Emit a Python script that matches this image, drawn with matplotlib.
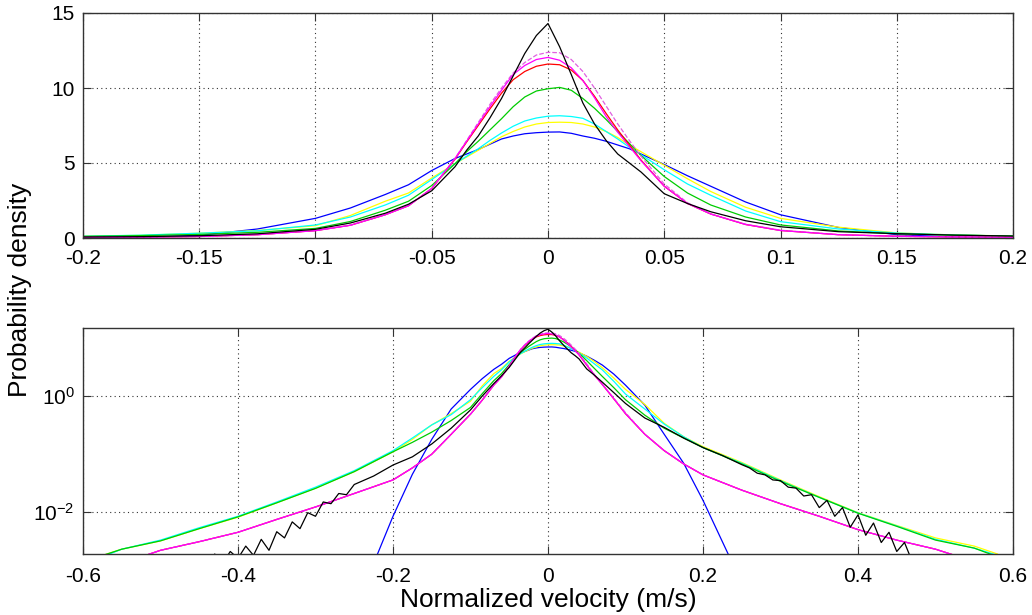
import matplotlib
matplotlib.use("Agg")
import matplotlib.pyplot as plt
from matplotlib.ticker import NullLocator

plt.rcParams['font.family'] = ['Liberation Sans', 'DejaVu Sans']
plt.rcParams['mathtext.fontset'] = 'custom'
plt.rcParams['mathtext.rm'] = 'Liberation Sans'
plt.rcParams['mathtext.it'] = 'Liberation Sans:italic'
plt.rcParams['mathtext.default'] = 'regular'
plt.rcParams['axes.unicode_minus'] = False

# ---------------- data ----------------
velocity = [-0.58, -0.55, -0.50, -0.45, -0.40, -0.35, -0.30, -0.25, -0.20, -0.175,
            -0.15, -0.125, -0.10, -0.085, -0.07, -0.06, -0.05, -0.04, -0.035, -0.03,
            -0.025, -0.02, -0.015, -0.01, -0.005, 0.0, 0.005, 0.01, 0.015, 0.02,
            0.025, 0.03, 0.035, 0.04, 0.05, 0.06, 0.07, 0.085, 0.10, 0.125,
            0.15, 0.175, 0.20, 0.25, 0.30, 0.35, 0.40, 0.45, 0.50, 0.55, 0.58]

pdf_blue = [1e-5, 1e-5, 1e-5, 1e-5, 1e-5, 1e-5, 2e-5, 2e-4, 0.0085, 0.045,
            0.18, 0.6, 1.31, 2.0, 2.9, 3.55, 4.5, 5.3, 5.6, 5.9,
            6.25, 6.6, 6.8, 6.95, 7.02, 7.06, 7.07, 6.98, 6.8, 6.65,
            6.45, 6.2, 5.95, 5.6, 4.9, 4.15, 3.45, 2.4, 1.55, 0.7,
            0.22, 0.07, 0.016, 6e-4, 2e-5, 1e-5, 1e-5, 1e-5, 1e-5, 1e-5, 1e-5]

pdf_yellow = [0.0017, 0.0023, 0.0032, 0.0052, 0.0082, 0.0145, 0.026, 0.05, 0.11, 0.18,
              0.32, 0.5, 0.82, 1.5, 2.45, 3.0, 4.0, 4.95, 5.4, 5.85,
              6.3, 6.75, 7.1, 7.4, 7.6, 7.7, 7.72, 7.7, 7.6, 7.4,
              7.1, 6.7, 6.2, 5.75, 4.85, 3.95, 3.1, 2.05, 1.31, 0.72,
              0.34, 0.2, 0.135, 0.072, 0.036, 0.0185, 0.0098, 0.0059, 0.0036, 0.0026, 0.0019]

pdf_cyan = [0.0016, 0.0023, 0.0033, 0.0054, 0.0085, 0.015, 0.027, 0.052, 0.115, 0.19,
            0.32, 0.48, 0.87, 1.4, 2.2, 2.85, 3.9, 4.95, 5.45, 5.95,
            6.5, 7.0, 7.45, 7.8, 8.0, 8.12, 8.15, 8.1, 7.98, 7.6,
            7.1, 6.6, 6.05, 5.55, 4.55, 3.6, 2.85, 1.8, 1.09, 0.6,
            0.33, 0.2, 0.13, 0.07, 0.035, 0.018, 0.0097, 0.0058, 0.0034, 0.0024, 0.0018]

pdf_green = [0.0017, 0.0023, 0.0032, 0.0052, 0.0083, 0.0145, 0.0257, 0.05, 0.11, 0.16,
             0.24, 0.38, 0.64, 1.1, 1.85, 2.45, 3.5, 4.95, 5.75, 6.45,
             7.2, 7.95, 8.75, 9.4, 9.8, 9.95, 10.04, 9.85, 9.3, 8.65,
             7.9, 7.1, 6.3, 5.5, 4.1, 3.0, 2.2, 1.4, 0.87, 0.47,
             0.28, 0.19, 0.13, 0.068, 0.034, 0.018, 0.0096, 0.0057, 0.0033, 0.0024, 0.0017]

pdf_red = [0.0009, 0.0013, 0.0022, 0.0031, 0.0045, 0.0075, 0.0123, 0.021, 0.036, 0.058,
           0.1, 0.22, 0.49, 0.85, 1.55, 2.15, 3.3, 5.25, 6.4, 7.5,
           8.6, 9.65, 10.55, 11.1, 11.45, 11.6, 11.55, 11.2, 10.5, 9.45,
           8.3, 7.2, 6.2, 5.2, 3.45, 2.3, 1.6, 0.9, 0.5, 0.22,
           0.115, 0.068, 0.044, 0.024, 0.014, 0.0085, 0.005, 0.0033, 0.0023, 0.0014, 0.0010]

pdf_magenta = [0.0009, 0.0013, 0.0022, 0.0031, 0.0045, 0.0075, 0.0123, 0.021, 0.036, 0.058,
               0.1, 0.22, 0.49, 0.85, 1.55, 2.15, 3.3, 5.3, 6.45, 7.6,
               8.75, 9.85, 10.9, 11.5, 11.9, 12.04, 11.85, 11.35, 10.5, 9.35,
               8.1, 7.05, 6.1, 5.15, 3.45, 2.3, 1.6, 0.9, 0.5, 0.22,
               0.115, 0.068, 0.044, 0.024, 0.014, 0.0085, 0.005, 0.0033, 0.0023, 0.0014, 0.0010]

pdf_magenta_dashed = [0.0009, 0.0013, 0.0022, 0.0031, 0.0045, 0.0075, 0.0123, 0.021, 0.036, 0.058,
                      0.1, 0.22, 0.49, 0.85, 1.55, 2.15, 3.3, 5.3, 6.5, 7.7,
                      8.9, 10.0, 11.0, 11.7, 12.2, 12.38, 12.35, 11.9, 11.1, 10.0,
                      8.8, 7.6, 6.5, 5.45, 3.6, 2.35, 1.6, 0.92, 0.52, 0.22,
                      0.115, 0.068, 0.044, 0.024, 0.014, 0.0085, 0.005, 0.0033, 0.0023, 0.0014, 0.0010]

velocity_black = [-0.44, -0.43, -0.42, -0.41, -0.40, -0.39, -0.38, -0.37, -0.36, -0.35,
                  -0.34, -0.33, -0.32, -0.31, -0.30, -0.29, -0.28, -0.27, -0.26, -0.25,
                  -0.225, -0.20, -0.175, -0.15, -0.125, -0.10, -0.085, -0.07, -0.06, -0.05,
                  -0.04, -0.035, -0.03, -0.025, -0.02, -0.015, -0.01, -0.005, 0.0, 0.005,
                  0.01, 0.015, 0.02, 0.025, 0.03, 0.035, 0.04, 0.05, 0.06, 0.07,
                  0.085, 0.10, 0.125, 0.15, 0.175, 0.20, 0.225, 0.25, 0.26, 0.27,
                  0.28, 0.29, 0.30, 0.31, 0.32, 0.33, 0.34, 0.35, 0.36, 0.37,
                  0.38, 0.39, 0.40, 0.41, 0.42, 0.43, 0.44, 0.45, 0.46, 0.47, 0.48]

pdf_black = [0.0012, 0.0019, 0.0013, 0.0021, 0.0016, 0.0026, 0.0018, 0.0034, 0.0022, 0.0046,
             0.0036, 0.0068, 0.0052, 0.0098, 0.0085, 0.015, 0.014, 0.021, 0.020, 0.030,
             0.042, 0.065, 0.09, 0.15, 0.28, 0.58, 1.0, 1.65, 2.25, 3.15,
             4.75, 5.85, 6.8, 8.0, 9.3, 10.8, 12.3, 13.5, 14.3, 12.75,
             10.9, 9.0, 7.6, 6.5, 5.6, 5.0, 4.4, 2.95, 2.3, 1.75,
             1.15, 0.75, 0.42, 0.29, 0.19, 0.13, 0.095, 0.066, 0.058, 0.047,
             0.044, 0.036, 0.035, 0.027, 0.026, 0.019, 0.020, 0.012, 0.016, 0.0085,
             0.012, 0.0055, 0.009, 0.004, 0.0065, 0.003, 0.0045, 0.0021, 0.003, 0.0014, 0.0010]

top_xticks = [-0.2, -0.15, -0.1, -0.05, 0, 0.05, 0.1, 0.15, 0.2]
top_xticklabels = ['-0.2', '-0.15', '-0.1', '-0.05', '0', '0.05', '0.1', '0.15', '0.2']
top_yticks = [0, 5, 10, 15]
top_yticklabels = ['0', '5', '10', '15']
bottom_xticks = [-0.6, -0.4, -0.2, 0, 0.2, 0.4, 0.6]
bottom_xticklabels = ['-0.6', '-0.4', '-0.2', '0', '0.2', '0.4', '0.6']
bottom_yticks = [1e-2, 1e0]
bottom_yticklabels = ['10$^{-2}$', '10$^{0}$']

# ---------------- figure ----------------
W, H = 1032, 615
fig = plt.figure(figsize=(W / 100, H / 100), dpi=100)
ax1 = fig.add_axes([83 / W, 1 - 238 / H, 930 / W, 225 / H])
ax2 = fig.add_axes([83 / W, 1 - 554 / H, 930 / W, 226 / H])

curves = [
    (velocity, pdf_blue, '#0000ff', '-'),
    (velocity, pdf_yellow, '#ffff00', '-'),
    (velocity, pdf_cyan, '#00ffff', '-'),
    (velocity, pdf_green, '#00cc00', '-'),
    (velocity, pdf_red, '#ff0000', '-'),
    (velocity, pdf_magenta_dashed, '#e060e0', '--'),
    (velocity, pdf_magenta, '#ff00ff', '-'),
    (velocity_black, pdf_black, '#000000', '-'),
]

for ax in (ax1, ax2):
    for xs, ys, c, ls in curves:
        ax.plot(xs, ys, color=c, linestyle=ls, linewidth=0.9)
    ax.set_axisbelow(True)
    ax.grid(True, linestyle=(0, (1, 3)), color='#333333', linewidth=0.8)
    ax.tick_params(direction='in', length=6, top=True, right=True,
                   labelsize=15, color='#333333', pad=6)
    for s in ax.spines.values():
        s.set_color('#333333')
        s.set_linewidth(1.0)

ax1.set_xlim(-0.2, 0.2)
ax1.set_ylim(0, 15)
ax1.set_xticks(top_xticks)
ax1.set_xticklabels(top_xticklabels)
ax1.set_yticks(top_yticks)
ax1.set_yticklabels(top_yticklabels)
ax1.tick_params(axis='x', pad=8)

ax2.set_yscale('log')
ax2.set_xlim(-0.6, 0.6)
ax2.set_ylim(0.0019, 15)
ax2.set_xticks(bottom_xticks)
ax2.set_xticklabels(bottom_xticklabels)
ax2.set_yticks(bottom_yticks)
ax2.set_yticklabels(bottom_yticklabels)
ax2.yaxis.set_minor_locator(NullLocator())
ax2.tick_params(axis='x', pad=9)

fig.text(20 / W, 1 - 290 / H, 'Probability density', rotation=90,
         ha='center', va='center', fontsize=19)
fig.text(548 / W, 1 - 600 / H, 'Normalized velocity (m/s)',
         ha='center', va='center', fontsize=19)

fig.savefig('out.png', dpi=100)
